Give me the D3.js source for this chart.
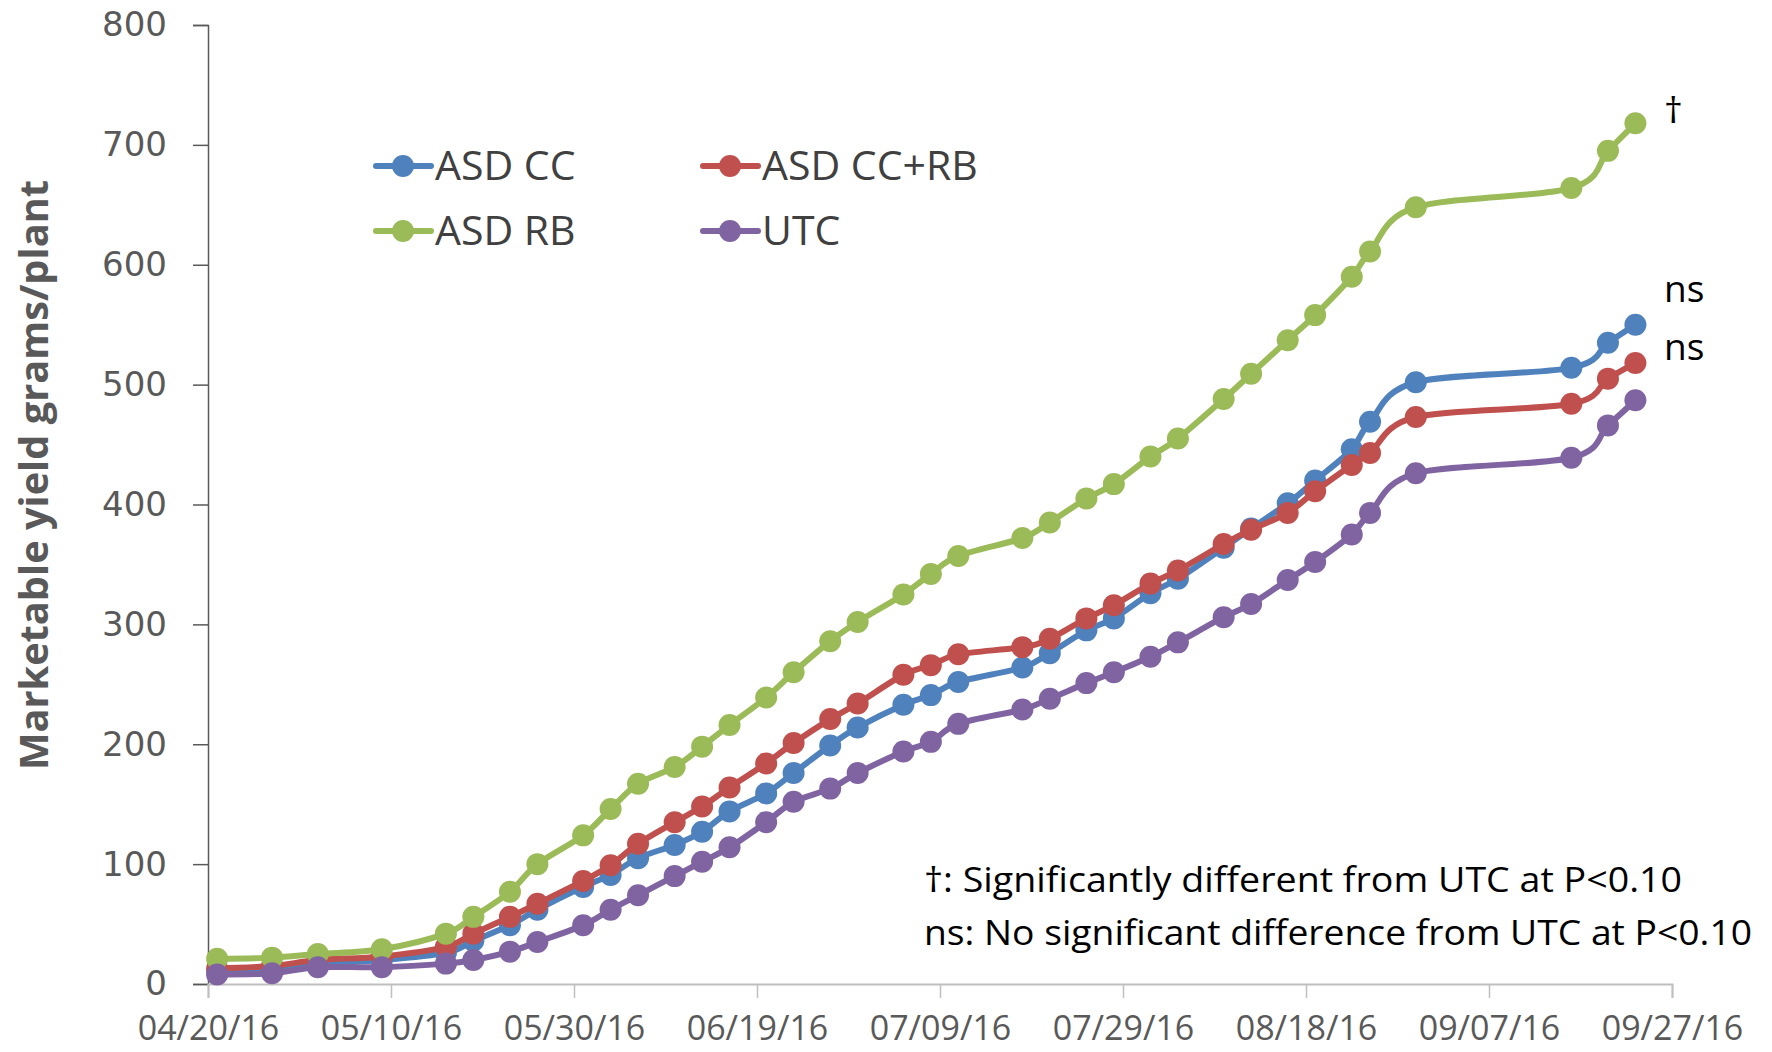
<!DOCTYPE html>
<html><head><meta charset="utf-8">
<script src="https://cdn.jsdelivr.net/npm/d3@7"></script>
<style>body{margin:0;background:#fff}svg{display:block}</style>
</head><body>
<script>
const dates = ["04/21/16","04/27/16","05/02/16","05/09/16","05/16/16","05/19/16","05/23/16","05/26/16","05/31/16","06/03/16","06/06/16","06/10/16","06/13/16","06/16/16","06/20/16","06/23/16","06/27/16","06/30/16","07/05/16","07/08/16","07/11/16","07/18/16","07/21/16","07/25/16","07/28/16","08/01/16","08/04/16","08/09/16","08/12/16","08/16/16","08/19/16","08/23/16","08/25/16","08/30/16","09/16/16","09/20/16","09/23/16"];
const asdCC   = [10,11,17,20,26,36,49,62,81,91,105,116,127,144,159,176,199,214,233,241,252,264,276,295,305,326,338,364,380,401,420,446,469,502,514,535,550];
const asdCCRB = [13,15,20,23,31,42,56,67,86,99,117,135,148,164,184,201,221,234,258,266,275,281,288,305,316,334,345,367,379,393,411,433,443,473,484,505,518];
const asdRB   = [21,22,25,29,42,56,77,100,124,146,167,181,198,216,239,260,286,302,325,342,357,372,385,405,417,440,455,488,509,537,558,590,611,648,664,695,718];
const utc     = [8,9,14,14,17,20,27,35,49,62,74,90,102,114,135,152,163,176,194,202,217,229,238,251,260,273,285,306,317,337,352,375,393,426,439,466,487];
const seriesNames = ["ASD CC","ASD CC+RB","ASD RB","UTC"];
const seriesColors = ["#4F81BD","#C0504D","#9BBB59","#8064A2"];
const xTickLabels = ["04/20/16","05/10/16","05/30/16","06/19/16","07/09/16","07/29/16","08/18/16","09/07/16","09/27/16"];
const yTicks = [0,100,200,300,400,500,600,700,800];
const sigLabels = ["†","ns","ns"];
const footnotes = ["†: Significantly different from UTC at P<0.10","ns: No significant difference from UTC at P<0.10"];

const W=1772,H=1052;
const parse = d3.utcParse("%m/%d/%y");
const svg = d3.select("body").append("svg").attr("width",W).attr("height",H);
const x = d3.scaleUtc().domain([parse(xTickLabels[0]), parse(xTickLabels[xTickLabels.length-1])]).range([208,1672]);
const y = d3.scaleLinear().domain([0,800]).range([984,25]);

// axes
const yAxis = svg.append("g").attr("transform","translate(208,0)")
  .call(d3.axisLeft(y).tickValues(yTicks).tickSize(15).tickPadding(26).tickFormat(d3.format("d")));
yAxis.select(".domain").attr("stroke","#595959").attr("stroke-width",1.5);
yAxis.selectAll(".tick line").attr("stroke","#595959").attr("stroke-width",1.5);
yAxis.selectAll(".tick text").attr("fill","#595959").style("font-family","'DejaVu Sans'").style("font-size","34px");

const xAxis = svg.append("g").attr("transform","translate(0,984)")
  .call(d3.axisBottom(x).tickValues(xTickLabels.map(parse)).tickSize(14).tickPadding(18).tickFormat(d3.utcFormat("%m/%d/%y")));
xAxis.select(".domain").attr("stroke","#bfbfbf").attr("stroke-width",2);
xAxis.selectAll(".tick line").attr("stroke","#bfbfbf").attr("stroke-width",1.5);
xAxis.selectAll(".tick text").attr("fill","#595959").style("font-family","'Open Sans'").style("font-size","34px");

// y title
svg.append("text").attr("transform","translate(48,475) rotate(-90)").attr("text-anchor","middle")
  .attr("fill","#595959").style("font-family","'Open Sans'").style("font-weight","bold").style("font-size","40px")
  .attr("textLength",590).attr("lengthAdjust","spacingAndGlyphs")
  .text("Marketable yield grams/plant");

const allSeries = [asdCC,asdCCRB,asdRB,utc];
const line = d3.line().x((d,i)=>x(parse(dates[i]))).y(d=>y(d)).curve(d3.curveCardinal.tension(0));
allSeries.forEach((vals,k)=>{
  const g = svg.append("g");
  g.append("path").attr("d",line(vals)).attr("fill","none").attr("stroke",seriesColors[k]).attr("stroke-width",6).attr("stroke-linejoin","round");
  g.selectAll("circle").data(vals).join("circle").attr("cx",(d,i)=>x(parse(dates[i]))).attr("cy",d=>y(d)).attr("r",11).attr("fill",seriesColors[k]);
});

// legend
const legPos = [[376,166],[703,166],[376,231],[703,231]];
seriesNames.forEach((n,k)=>{
  const [lx,ly]=legPos[k];
  const g=svg.append("g").attr("transform",`translate(${lx},${ly})`);
  g.append("line").attr("x1",0).attr("x2",55).attr("y1",0).attr("y2",0).attr("stroke",seriesColors[k]).attr("stroke-width",6).attr("stroke-linecap","round");
  g.append("circle").attr("cx",27).attr("cy",0).attr("r",11).attr("fill",seriesColors[k]);
  g.append("text").attr("x",59).attr("y",0).attr("dy","0.35em").attr("fill","#404040")
    .style("font-family","'Open Sans'").style("font-size","41px").text(n);
});

// significance labels
const lastIdx = dates.length-1;
const sigY = [y(asdRB[lastIdx])-13, y(asdCC[lastIdx])-36, y(asdCCRB[lastIdx])-16];
sigLabels.forEach((t,i)=>{
  svg.append("text").attr("x",1664).attr("y",sigY[i]).attr("dy","0.35em").attr("fill","#000")
    .style("font-family","'Open Sans'").style("font-size","37px").text(t);
});

// footnotes
const footW = [758, 828];
footnotes.forEach((t,i)=>{
  svg.append("text").attr("x",924).attr("y",880+i*53).attr("dy","0.35em").attr("fill","#000")
    .style("font-family","'Open Sans'").style("font-size","35px")
    .attr("textLength",footW[i]).attr("lengthAdjust","spacingAndGlyphs").text(t);
});
</script>
</body></html>
